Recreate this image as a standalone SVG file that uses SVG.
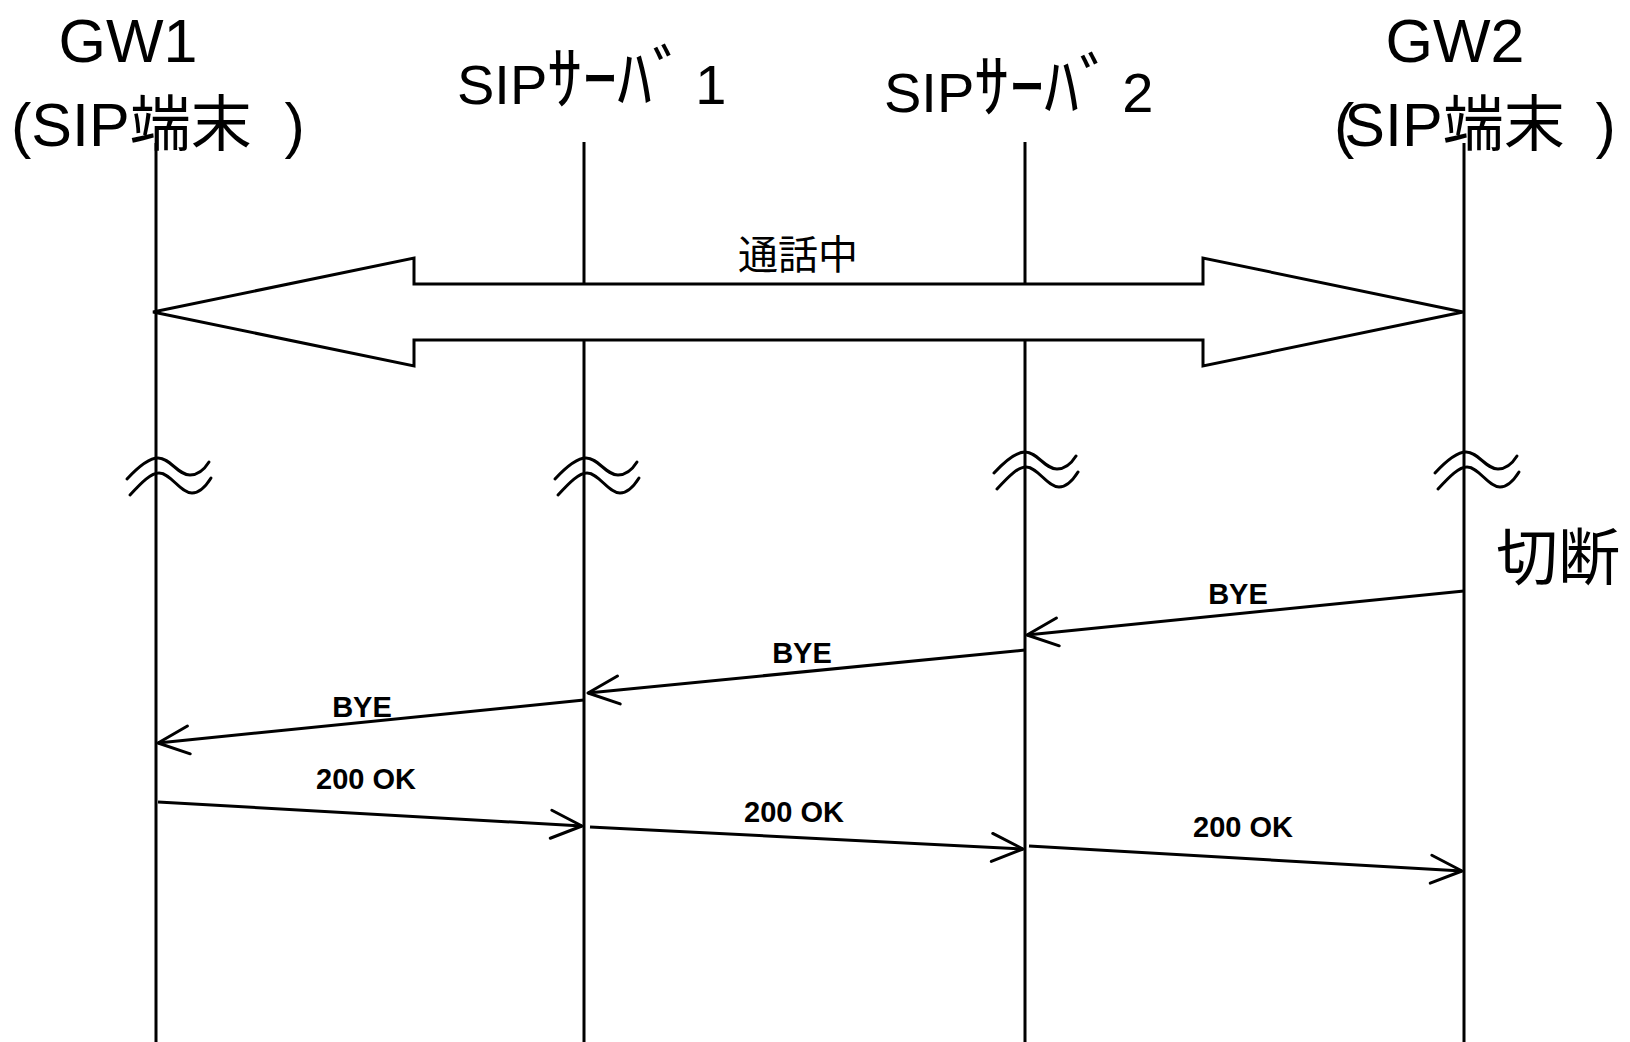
<svg xmlns="http://www.w3.org/2000/svg" width="1630" height="1042" viewBox="0 0 1630 1042">
<style>
.life{stroke:#000;stroke-width:3;fill:none}
.msg{stroke:#000;stroke-width:3;fill:none;marker-end:url(#open)}
.hdr{font-family:"Liberation Sans","Noto Sans CJK JP",sans-serif;font-size:61px;fill:#000}
.srv{font-family:"Liberation Sans","Noto Sans CJK JP",sans-serif;font-size:56px;fill:#000}
.kana{font-size:70px}
.lbl{font-family:"Liberation Sans",Arial,sans-serif;font-size:29px;font-weight:bold;fill:#000;text-anchor:middle}
.jp{font-family:"Noto Sans CJK JP",sans-serif;fill:#000}
.wv{stroke:#000;stroke-width:3;fill:none;stroke-linecap:round}
</style>
<defs>
<marker id="open" markerUnits="userSpaceOnUse" markerWidth="40" markerHeight="40" viewBox="-36 -18 40 36" refX="0" refY="0" orient="auto">
<path d="M -31,-14 L 0,0 L -31,14" fill="none" stroke="#000" stroke-width="3" stroke-linecap="round" stroke-linejoin="round"/>
</marker>
<g id="wave">
<path class="wv" d="M -29,4 C -17,-9 -7,-17 2,-17 C 14,-17 22,0 34,0 C 42,0 48,-5 53,-13"/>
<path class="wv" d="M -26,20 C -14,7 -5,-2 3,-2 C 15,-2 24,18 36,18 C 44,18 50,11 55,3"/>
</g>
</defs>

<g id="lifelines">
<line class="life" x1="156" y1="143" x2="156" y2="1042"/>
<line class="life" x1="584" y1="142" x2="584" y2="1042"/>
<line class="life" x1="1025" y1="142" x2="1025" y2="1042"/>
<line class="life" x1="1464" y1="143" x2="1464" y2="1042"/>
</g>

<g id="gw1">
<text class="hdr" x="128" y="62" text-anchor="middle">GW1</text>
<text class="hdr" x="11" y="146">(SIP端末 <tspan dx="16">)</tspan></text>
</g>
<g id="server1">
<text class="srv" x="457" y="104">SIP<tspan class="kana">ｻｰﾊﾞ</tspan><tspan dx="8">1</tspan></text>
</g>
<g id="server2">
<text class="srv" x="884" y="112">SIP<tspan class="kana">ｻｰﾊﾞ</tspan><tspan dx="8">2</tspan></text>
</g>
<g id="gw2">
<text class="hdr" x="1455" y="62" text-anchor="middle">GW2</text>
<text class="hdr" x="1334" y="146">(<tspan dx="-10">SIP端末 </tspan><tspan dx="14">)</tspan></text>
</g>

<g id="in-call">
<polygon points="153,312 414,258 414,284 1203,284 1203,258 1463,312 1203,366 1203,340 414,340 414,366" fill="#fff" stroke="#000" stroke-width="3" stroke-linejoin="miter"/>
<text class="jp" x="798" y="269" font-size="40" text-anchor="middle">通話中</text>
</g>

<g id="breaks">
<use href="#wave" x="156" y="475"/>
<use href="#wave" x="584" y="475"/>
<use href="#wave" x="1023" y="469"/>
<use href="#wave" x="1464" y="469"/>
</g>

<g id="disconnect">
<text class="jp" x="1496" y="580" font-size="62">切断</text>
</g>

<g id="connectors">
<line class="msg" x1="1464" y1="591" x2="1027" y2="635"/>
<line class="msg" x1="1025" y1="650" x2="588" y2="693"/>
<line class="msg" x1="584" y1="700" x2="158" y2="743"/>
<line class="msg" x1="158" y1="802" x2="582" y2="826"/>
<line class="msg" x1="590" y1="827" x2="1023" y2="849"/>
<line class="msg" x1="1029" y1="846" x2="1462" y2="871"/>
<text class="lbl" x="1238" y="604">BYE</text>
<text class="lbl" x="802" y="663">BYE</text>
<text class="lbl" x="362" y="717">BYE</text>
<text class="lbl" x="366" y="789">200 OK</text>
<text class="lbl" x="794" y="822">200 OK</text>
<text class="lbl" x="1243" y="837">200 OK</text>
</g>
</svg>
